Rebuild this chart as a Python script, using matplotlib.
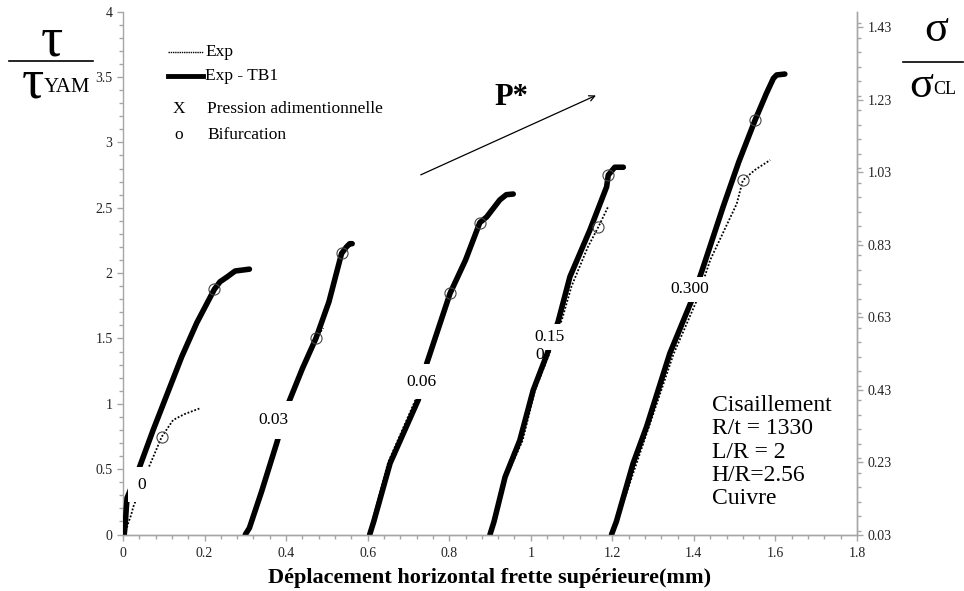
import numpy as np
import matplotlib
matplotlib.use('Agg')
import matplotlib.pyplot as plt
from matplotlib.ticker import MultipleLocator, FuncFormatter

plt.rcParams['font.family'] = ['Liberation Serif', 'DejaVu Serif']

# thick curves "Exp - TB1", one per pressure
tb1_x_000 = [0.003, 0.006, 0.008, 0.010, 0.0375, 0.074, 0.144, 0.181, 0.224, 0.238, 0.255, 0.275, 0.31]
tb1_y_000 = [0.0, 0.10, 0.20, 0.28, 0.49, 0.80, 1.36, 1.62, 1.876, 1.934, 1.97, 2.016, 2.03]
tb1_x_003 = [0.30, 0.31, 0.34, 0.377, 0.405, 0.44, 0.473, 0.505, 0.536, 0.548, 0.556, 0.562]
tb1_y_003 = [0.0, 0.05, 0.33, 0.70, 1.0, 1.27, 1.50, 1.78, 2.15, 2.20, 2.225, 2.225]
tb1_x_006 = [0.605, 0.615, 0.655, 0.724, 0.745, 0.802, 0.84, 0.875, 0.892, 0.924, 0.94, 0.957]
tb1_y_006 = [0.0, 0.10, 0.545, 1.03, 1.31, 1.845, 2.10, 2.386, 2.43, 2.56, 2.60, 2.605]
tb1_x_015 = [0.90, 0.91, 0.937, 0.973, 1.006, 1.039, 1.067, 1.096, 1.145, 1.186, 1.19, 1.206, 1.227]
tb1_y_015 = [0.0, 0.10, 0.44, 0.72, 1.105, 1.373, 1.628, 1.972, 2.33, 2.66, 2.75, 2.81, 2.81]
tb1_x_030 = [1.198, 1.21, 1.251, 1.284, 1.341, 1.395, 1.419, 1.472, 1.51, 1.55, 1.578, 1.595, 1.603, 1.623]
tb1_y_030 = [0.0, 0.10, 0.545, 0.825, 1.386, 1.794, 2.01, 2.51, 2.85, 3.17, 3.376, 3.49, 3.516, 3.523]

# thin curves "Exp"
exp_x_000 = [0.005, 0.012, 0.02, 0.025, 0.062, 0.075, 0.095, 0.123, 0.15, 0.189]
exp_y_000 = [0.0, 0.08, 0.15, 0.21, 0.506, 0.60, 0.748, 0.876, 0.92, 0.966]
exp_x_003 = [0.302, 0.34, 0.405, 0.45, 0.473, 0.491]
exp_y_003 = [0.0, 0.33, 0.98, 1.33, 1.50, 1.58]
exp_x_006 = [0.603, 0.65, 0.72, 0.745, 0.77, 0.80, 0.81]
exp_y_006 = [0.0, 0.55, 1.05, 1.32, 1.55, 1.80, 1.88]
exp_x_015 = [0.902, 0.94, 0.98, 1.01, 1.045, 1.076, 1.10, 1.14, 1.166, 1.19]
exp_y_015 = [0.0, 0.44, 0.72, 1.10, 1.38, 1.64, 1.90, 2.20, 2.355, 2.51]
exp_x_030 = [1.20, 1.26, 1.35, 1.407, 1.44, 1.505, 1.52, 1.55, 1.587]
exp_y_030 = [0.0, 0.55, 1.38, 1.79, 2.10, 2.53, 2.71, 2.79, 2.865]

# bifurcation points
bif_x = [0.095, 0.224, 0.473, 0.536, 0.802, 0.875, 1.166, 1.19, 1.52, 1.55]
bif_y = [0.748, 1.876, 1.50, 2.15, 1.845, 2.386, 2.355, 2.75, 2.71, 3.17]

# pressure labels
p_labels = ['0', '0.03', '0.06', '0.15', '0.300']
p_label_x = [0.046, 0.369, 0.732, 1.047, 1.39]
p_label_y = [0.38, 0.876, 1.17, 1.51, 1.876]
p_label_pad = [0.55, 0.65, 0.55, 0.3, 0.25]

fig = plt.figure(figsize=(9.64, 5.91), dpi=100)
ax = fig.add_axes([123/964, 1-534.5/591, (857-123)/964, (534.5-11.7)/591])

tb1 = [(tb1_x_000, tb1_y_000), (tb1_x_003, tb1_y_003), (tb1_x_006, tb1_y_006),
       (tb1_x_015, tb1_y_015), (tb1_x_030, tb1_y_030)]
exp = [(exp_x_000, exp_y_000), (exp_x_003, exp_y_003), (exp_x_006, exp_y_006),
       (exp_x_015, exp_y_015), (exp_x_030, exp_y_030)]

for x, y in exp:
    ax.plot(x, y, color='black', lw=1.3, ls=(0, (1, 1)), zorder=2)
for x, y in tb1:
    ax.plot(x, y, color='black', lw=4, solid_capstyle='round', solid_joinstyle='round', zorder=3)
ax.plot(bif_x, bif_y, ls='none', marker='o', ms=8, mfc='none', mec='#444', mew=0.8, zorder=4)

for lab, lx, ly, pd in zip(p_labels, p_label_x, p_label_y, p_label_pad):
    ax.text(lx, ly, lab, fontsize=12.5, ha='center', va='center', zorder=6,
            bbox=dict(boxstyle='square,pad=%s' % pd, fc='white', ec='none'))
ax.text(1.0226, 1.373, '0', fontsize=12.5, ha='center', va='center', zorder=6)

# axes look
ax.set_xlim(0, 1.8)
ax.set_ylim(0, 4)
ax.xaxis.set_major_locator(MultipleLocator(0.2))
ax.xaxis.set_minor_locator(MultipleLocator(0.04))
ax.yaxis.set_major_locator(MultipleLocator(0.5))
ax.yaxis.set_minor_locator(MultipleLocator(0.1))
fmt = FuncFormatter(lambda v, p: '%g' % round(v, 3))
ax.xaxis.set_major_formatter(fmt)
ax.yaxis.set_major_formatter(fmt)

ax2 = ax.twinx()
ax2.set_ylim(0.03, 0.03 + 4 * 0.3606)
ax2.set_yticks(np.arange(0.03, 1.44, 0.2))
ax2.yaxis.set_minor_locator(MultipleLocator(0.04))
ax2.yaxis.set_major_formatter(FuncFormatter(lambda v, p: '%.2f' % v))

for a in (ax, ax2):
    a.spines['top'].set_visible(False)
    for s in a.spines.values():
        s.set_color('#a6a6a6')
        s.set_linewidth(1)
    a.tick_params(which='major', direction='out', length=4, width=1, color='#a6a6a6',
                  labelcolor='#222', labelsize=10)
    a.tick_params(which='minor', direction='out', length=3, width=1, color='#a6a6a6')
ax.tick_params(axis='x', pad=5)
ax2.spines['left'].set_visible(False)

ax.set_xlabel('Déplacement horizontal frette supérieure(mm)', fontsize=16,
              fontweight='bold', labelpad=6)

# P* arrow
ax.annotate('', xy=(1.166, 3.368), xytext=(0.724, 2.743),
            arrowprops=dict(arrowstyle='->', color='black', lw=0.9))
ax.text(0.953, 3.34, 'P*', fontsize=22, fontweight='bold', ha='center', va='center')

# parameters box
ax.text(1.444, 0.631, 'Cisaillement\nR/t = 1330\nL/R = 2\nH/R=2.56\nCuivre',
        fontsize=17, ha='left', va='center', linespacing=1.13)

# legend drawn by hand
ax.plot([0.110, 0.196], [3.694, 3.694], color='black', lw=1, ls=(0, (1, 0.6)))
ax.plot([0.110, 0.196], [3.506, 3.506], color='black', lw=3.5)
ax.text(0.201, 3.694, 'Exp', fontsize=12.5, va='center')
ax.text(0.201, 3.506, 'Exp - TB1', fontsize=12.5, va='center')
ax.text(0.137, 3.256, 'X', fontsize=12.5, va='center', ha='center')
ax.text(0.206, 3.256, 'Pression adimentionnelle', fontsize=12.5, va='center')
ax.text(0.137, 3.057, 'o', fontsize=12.5, va='center', ha='center')
ax.text(0.206, 3.057, 'Bifurcation', fontsize=12.5, va='center')

# axis titles as fractions
fig.text(51.7/964, 1-42/591, 'τ', fontsize=40, ha='center', va='center')
fig.add_artist(plt.Line2D([9/964, 93/964], [1-61/591, 1-61/591], color='black', lw=1.2))
fig.text(44/964, 1-84/591, 'τ', fontsize=40, ha='right', va='center')
fig.text(44/964, 1-88/591, 'YAM', fontsize=15, ha='left', va='center')

fig.text(936/964, 1-30/591, 'σ', fontsize=32, ha='center', va='center')
fig.add_artist(plt.Line2D([902.7/964, 963/964], [1-61.7/591, 1-61.7/591], color='black', lw=1.2))
fig.text(933/964, 1-86/591, 'σ', fontsize=32, ha='right', va='center')
fig.text(933/964, 1-90/591, 'CL', fontsize=13, ha='left', va='center')

fig.savefig('out.png', dpi=100)
